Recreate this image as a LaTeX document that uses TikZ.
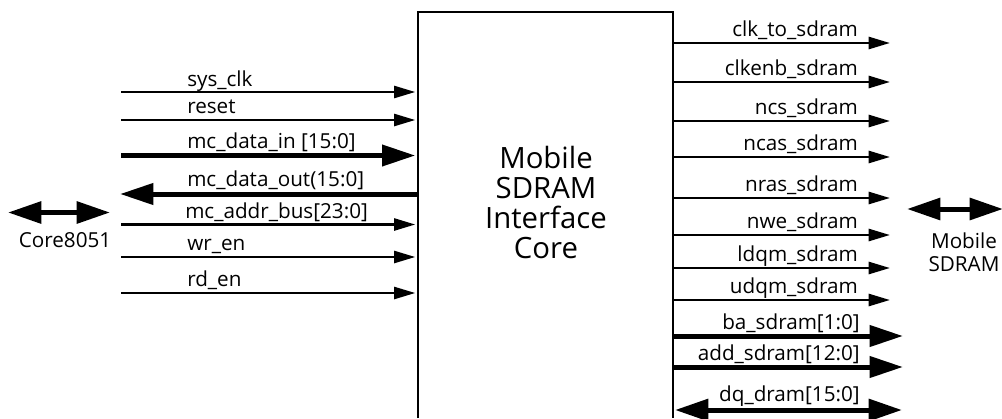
\documentclass[tikz,border=0pt]{standalone}
\usepackage{fontspec}
\setmainfont{Open Sans}
\usetikzlibrary{arrows.meta}

\tikzset{
  sig/.style={line width=2pt, shorten >=2pt, -{Triangle[length=16pt,width=9pt]}},
  bus/.style={line width=3.75pt, shorten >=2pt, -{Triangle[length=25pt,width=15.5pt]}},
  dbl/.style={line width=3.75pt, {Triangle[length=25pt,width=16pt]}-{Triangle[length=25pt,width=16pt]}},
  lbl/.style={font=\fontsize{15.5}{17}\selectfont, inner sep=0pt},
  big/.style={font=\fontsize{22}{22.5}\selectfont, align=center, inner sep=0pt}
}

\begin{document}
\begin{tikzpicture}[x=0.75pt,y=-0.75pt]
  \useasboundingbox (0,0) rectangle (1002,418);

  % core box (bottom edge lies below the picture)
  \node[minimum width=255*0.75pt, minimum height=406*0.75pt, inner sep=0pt, outer sep=0pt] (core) at (545.5,215) {};
  \draw[line width=1.5pt] (core.south west) -- (core.north west) -- (core.north east) -- (core.south east);
  \node[big] (corelbl) at (546,202) {Mobile\\SDRAM\\Interface\\Core};

  % inputs from Core8051
  \coordinate (sysclk) at (121,92);
  \coordinate (reset) at (121,120);
  \coordinate (din) at (121,155.5);
  \coordinate (dout) at (120,194);
  \coordinate (addr) at (121,224.5);
  \coordinate (wren) at (121,257);
  \coordinate (rden) at (121,293);

  \draw[sig] (sysclk) -- (sysclk -| core.west);
  \draw[sig] (reset) -- (reset -| core.west);
  \draw[bus] (din) -- (din -| core.west);
  \draw[bus, shorten >=0pt] (dout -| core.west) -- (dout);
  \draw[sig] (addr) -- (addr -| core.west);
  \draw[sig] (wren) -- (wren -| core.west);
  \draw[sig] (rden) -- (rden -| core.west);

  \node[lbl, anchor=base west] (sysclklbl) at (187,86) {sys\_clk};
  \node[lbl, anchor=base west] (resetlbl) at (187,113.5) {reset};
  \node[lbl, anchor=base west] (dinlbl) at (187,148.5) {mc\_data\_in [15:0]};
  \node[lbl, anchor=base west] (doutlbl) at (187,186) {mc\_data\_out(15:0]};
  \node[lbl, anchor=base west] (addrlbl) at (185,218) {mc\_addr\_bus[23:0]};
  \node[lbl, anchor=base west] (wrenlbl) at (187,250.5) {wr\_en};
  \node[lbl, anchor=base west] (rdenlbl) at (187,286.5) {rd\_en};

  % outputs to the Mobile SDRAM
  \coordinate (clk) at (890,43);
  \coordinate (clkenb) at (890,82);
  \coordinate (ncs) at (890,121);
  \coordinate (ncas) at (890,157);
  \coordinate (nras) at (890,198);
  \coordinate (nwe) at (890,235);
  \coordinate (ldqm) at (890,268);
  \coordinate (udqm) at (890,300);
  \coordinate (ba) at (903,336);
  \coordinate (add) at (903,367);
  \coordinate (dqr) at (902,410);
  \coordinate (dql) at (675,410);

  \draw[sig, shorten >=0pt] (clk -| core.east) -- (clk);
  \draw[sig, shorten >=0pt] (clkenb -| core.east) -- (clkenb);
  \draw[sig, shorten >=0pt] (ncs -| core.east) -- (ncs);
  \draw[sig, shorten >=0pt] (ncas -| core.east) -- (ncas);
  \draw[sig, shorten >=0pt] (nras -| core.east) -- (nras);
  \draw[sig, shorten >=0pt] (nwe -| core.east) -- (nwe);
  \draw[sig, shorten >=0pt] (ldqm -| core.east) -- (ldqm);
  \draw[sig, shorten >=0pt] (udqm -| core.east) -- (udqm);
  \draw[bus, shorten >=0pt] (ba -| core.east) -- (ba);
  \draw[bus, shorten >=0pt] (add -| core.east) -- (add);
  \draw[dbl] (dql) -- (dqr);

  \node[lbl, anchor=base east] (clklbl) at (858,36.5) {clk\_to\_sdram};
  \node[lbl, anchor=base east] (clkenblbl) at (858,75.5) {clkenb\_sdram};
  \node[lbl, anchor=base east] (ncslbl) at (858,114.5) {ncs\_sdram};
  \node[lbl, anchor=base east] (ncaslbl) at (858,150.5) {ncas\_sdram};
  \node[lbl, anchor=base east] (nraslbl) at (858,191.5) {nras\_sdram};
  \node[lbl, anchor=base east] (nwelbl) at (858,228.5) {nwe\_sdram};
  \node[lbl, anchor=base east] (ldqmlbl) at (858,261.5) {ldqm\_sdram};
  \node[lbl, anchor=base east] (udqmlbl) at (858,293.5) {udqm\_sdram};
  \node[lbl, anchor=base east] (balbl) at (860,329.5) {ba\_sdram[1:0]};
  \node[lbl, anchor=base east] (addlbl) at (860,360.5) {add\_sdram[12:0]};
  \node[lbl, anchor=base east] (dqlbl) at (860,401.5) {dq\_dram[15:0]};

  % the two ends
  \coordinate (c8051l) at (8,212.5);
  \coordinate (c8051r) at (110,212.5);
  \draw[dbl] (c8051l) -- (c8051r);
  \node[lbl] (c8051lbl) at (65,240) {Core8051};

  \coordinate (sdraml) at (907,209);
  \coordinate (sdramr) at (1003,209);
  \draw[dbl] (sdraml) -- (sdramr);
  \node[lbl, align=center] (sdramlbl) at (964,252) {Mobile\\SDRAM};
\end{tikzpicture}
\end{document}
